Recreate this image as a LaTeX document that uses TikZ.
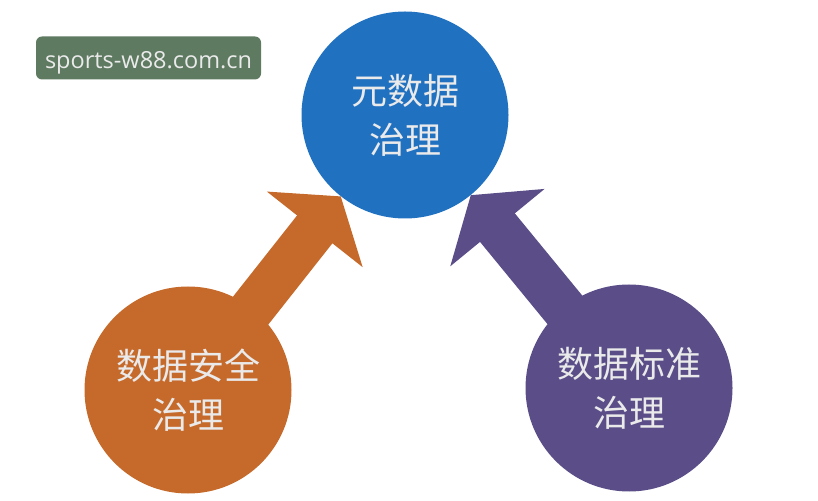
\documentclass[tikz,border=0pt]{standalone}
\usepackage{fontspec}
\newfontfamily\cjk{Noto Sans CJK SC}
\setsansfont{Open Sans}
\usetikzlibrary{arrows.meta,backgrounds}
\definecolor{metablu}{HTML}{2171C1}
\definecolor{sicarancio}{HTML}{C66A2B}
\definecolor{stdviola}{HTML}{5B4E88}
\definecolor{marchioverde}{HTML}{5E7A61}
\definecolor{testochiaro}{HTML}{EAEAEA}
\tikzset{
  cerchio/.style={circle, minimum size=207pt, inner sep=0pt, text=testochiaro, font=\cjk\fontsize{36}{49}\selectfont, align=center},
  freccia/.style={line width=45pt, -{Triangle[width=120pt,length=42pt]}},
}
\begin{document}
\begin{tikzpicture}[x=1pt,y=1pt]
  \useasboundingbox (0,0) rectangle (818,500);
  % Definizione dei nodi
  \node[cerchio, fill=metablu] (meta) at (405,385) {元数据\\治理};
  \node[cerchio, fill=sicarancio] (sicurezza) at (188,110) {数据安全\\治理};
  \node[cerchio, fill=stdviola] (standard) at (629,112) {数据标准\\治理};
  \node[rounded corners=6pt, fill=marchioverde, text=testochiaro, font=\sffamily\fontsize{23.5}{26}\selectfont, text height=23pt, text depth=2pt, minimum width=225pt, minimum height=43pt] (marchio) at (148.5,442) {sports-w88.com.cn};

  % Definizione degli archi
  \begin{scope}[on background layer]
    \draw[freccia, draw=sicarancio] (sicurezza.center) -- (meta); % freccia da sicurezza a meta
    \draw[freccia, draw=stdviola] (standard.center) -- (meta); % freccia da standard a meta
  \end{scope}
\end{tikzpicture}
\end{document}
